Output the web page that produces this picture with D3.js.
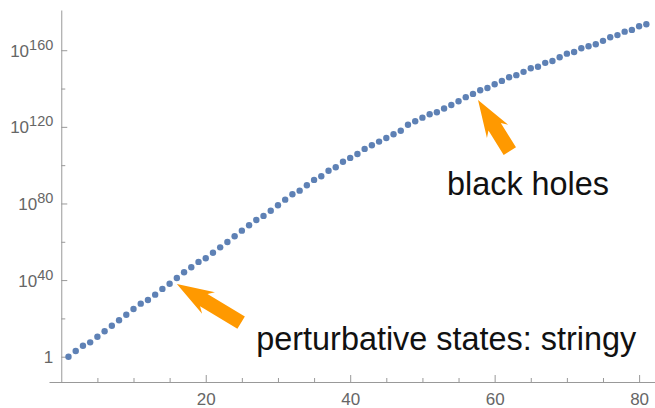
<!DOCTYPE html>
<html>
<head>
<meta charset="utf-8">
<script src="https://cdn.jsdelivr.net/npm/d3@7"></script>
<style>
  body { margin: 0; background: #fff; }
  svg { display: block; font-family: "Liberation Sans", Arial, sans-serif; }
</style>
</head>
<body>
<svg id="chart" width="655" height="408"></svg>
<script>
// log10 of the value at each level n = 1..81
const logValues = [
    0, 3.0, 5.7, 7.5, 10.4, 13.3, 16.2, 19.0, 21.9, 24.9,
    27.7, 29.6, 32.4, 35.4, 38.1, 41.1, 44.1, 46.7, 49.5, 51.4,
    54.3, 57.1, 59.9, 62.9, 65.8, 68.6, 71.4, 73.5, 76.2, 79.1,
    82.0, 84.8, 86.7, 89.5, 92.3, 94.2, 97.1, 98.9, 101.8, 103.8,
    105.8, 108.5, 110.4, 112.3, 114.2, 116.1, 118.0, 121.1, 122.9, 124.8,
    126.6, 127.6, 129.6, 131.4, 133.4, 135.5, 137.2, 139.1, 140.3, 142.2,
    144.0, 145.9, 147.0, 148.7, 150.6, 151.4, 153.4, 154.4, 156.3, 158.2,
    159.1, 161.0, 162.1, 163.1, 164.9, 166.8, 167.9, 169.7, 170.6, 172.5,
    173.6
];
const levels = logValues.map((d, i) => i + 1);

const xMajorTicks = [20, 40, 60, 80];
const xMinorTicks = [5, 10, 15, 25, 30, 35, 45, 50, 55, 65, 70, 75];
const yMajorTicks = [0, 40, 80, 120, 160];
const yMajorLabels = [["1", ""], ["10", "40"], ["10", "80"], ["10", "120"], ["10", "160"]];
const yMinorTicks = [20, 60, 100, 140];

// annotations: [n, log10] of arrow tip and tail, and label start
const arrowTips = [[16.0, 38.0], [57.7, 134.0]];
const arrowTails = [[24.9, 17.8], [62.1, 107.3]];
const noteTexts = ["perturbative states: stringy", "black holes"];
const notePositions = [[27.0, 3.5], [53.4, 84.4]];

const svg = d3.select("#chart");

const x = d3.scaleLinear().domain([-1.7, 82.2]).range([49, 655]);
const y = d3.scaleLinear().domain([-13.2, 181]).range([382, 10]);

const axisColor = "#999";
const labelColor = "#666";

// x axis, ticks pointing up into the plot
const xAxis = svg.append("g")
    .attr("transform", `translate(0,${y(-13.2)})`)
    .call(d3.axisBottom(x).tickValues(xMajorTicks).tickSize(-7).tickSizeOuter(0).tickPadding(10.5));
svg.append("g")
    .attr("transform", `translate(0,${y(-13.2)})`)
    .call(d3.axisBottom(x).tickValues(xMinorTicks).tickSize(-4).tickSizeOuter(0).tickFormat(""))
    .call(g => g.select(".domain").remove());

// y axis at n = 0, ticks pointing right
const yAxis = svg.append("g")
    .attr("transform", `translate(${x(0)},0)`)
    .call(d3.axisLeft(y).tickValues(yMajorTicks).tickSize(-6).tickSizeOuter(0).tickFormat(""));
svg.append("g")
    .attr("transform", `translate(${x(0)},0)`)
    .call(d3.axisLeft(y).tickValues(yMinorTicks).tickSize(-4).tickSizeOuter(0).tickFormat(""))
    .call(g => g.select(".domain").remove());

svg.selectAll(".domain, .tick line").attr("stroke", axisColor).attr("stroke-width", 1);

xAxis.selectAll(".tick text")
    .attr("fill", labelColor)
    .style("font-size", "17px")
    .style("font-family", "'Liberation Sans', Arial, sans-serif");

// y labels as 10 with a raised exponent
yAxis.selectAll(".tick").each(function (d, i) {
    const t = d3.select(this).append("text")
        .attr("x", -8)
        .attr("y", 6)
        .attr("text-anchor", "end")
        .attr("fill", labelColor)
        .style("font-size", "17px")
        .style("font-family", "'Liberation Sans', Arial, sans-serif");
    t.append("tspan").text(yMajorLabels[i][0]);
    if (yMajorLabels[i][1] !== "") {
        t.append("tspan")
            .attr("dy", -7)
            .style("font-size", "14.5px")
            .text(yMajorLabels[i][1]);
    }
});

// points
svg.append("g")
    .selectAll("circle")
    .data(levels)
    .enter().append("circle")
    .attr("cx", d => x(d))
    .attr("cy", (d, i) => y(logValues[i]))
    .attr("r", 3.2)
    .attr("fill", "#5e81b5");

// block arrows
function arrowPath(tip, tail) {
    const tx = x(tip[0]), ty = y(tip[1]);
    const ex = x(tail[0]), ey = y(tail[1]);
    const len = Math.hypot(ex - tx, ey - ty);
    const ux = (ex - tx) / len, uy = (ey - ty) / len;
    const px = -uy, py = ux;
    const headLen = 37, headW = 25, shaftW = 14.5;
    const pts = [
        [0, 0],
        [headLen, headW / 2],
        [headLen * 0.85, shaftW / 2],
        [len, shaftW / 2],
        [len, -shaftW / 2],
        [headLen * 0.85, -shaftW / 2],
        [headLen, -headW / 2]
    ];
    return d3.line()(pts.map(p => [tx + p[0] * ux + p[1] * px, ty + p[0] * uy + p[1] * py])) + "Z";
}

svg.append("g")
    .selectAll("path")
    .data(arrowTips)
    .enter().append("path")
    .attr("d", (d, i) => arrowPath(d, arrowTails[i]))
    .attr("fill", "#ff9900");

svg.append("g")
    .selectAll("text")
    .data(noteTexts)
    .enter().append("text")
    .attr("x", (d, i) => x(notePositions[i][0]))
    .attr("y", (d, i) => y(notePositions[i][1]))
    .attr("fill", "#111")
    .style("font-size", "32.4px")
    .text(d => d);
</script>
</body>
</html>
